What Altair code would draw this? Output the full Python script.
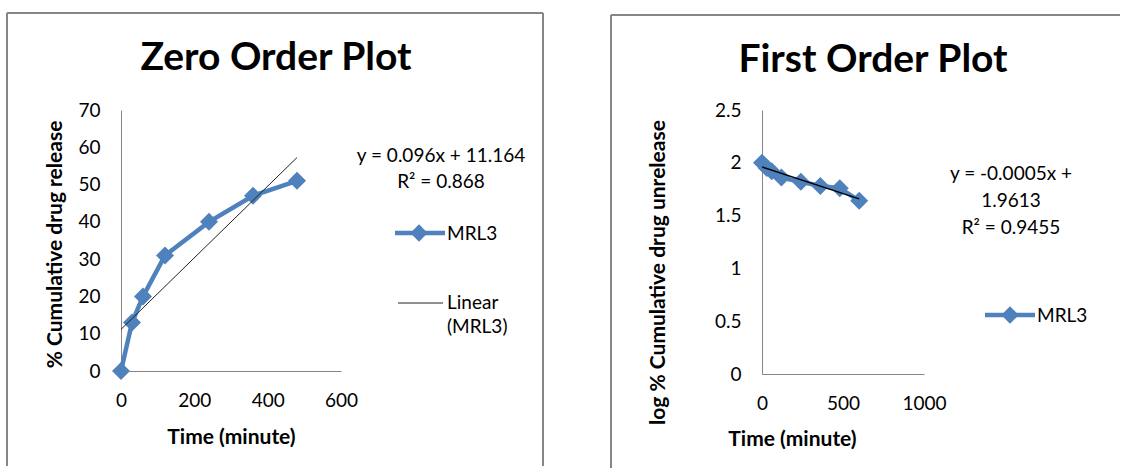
import altair as alt
import pandas as pd

# ---- data ----
time_zero = [0, 30, 60, 120, 240, 360, 480]
release_zero = [0, 13, 20, 31, 40, 47, 51]

time_first = [0, 30, 60, 120, 240, 360, 480, 600]
log_unrelease = [2.0, 1.95, 1.92, 1.86, 1.82, 1.78, 1.76, 1.64]

x_ticks_zero = [0, 200, 400, 600]
y_ticks_zero = [0, 10, 20, 30, 40, 50, 60, 70]
x_ticks_first = [0, 500, 1000]
y_ticks_first = [0, 0.5, 1, 1.5, 2, 2.5]

series_name = "MRL3"
zero_title = "Zero Order Plot"
first_title = "First Order Plot"
zero_eq = ["y = 0.096x + 11.164", "R\u00b2 = 0.868"]
first_eq = ["y = -0.0005x +", "1.9613", "R\u00b2 = 0.9455"]

BLUE = "#4F81BD"
GRAY = "#868686"
FONT = "Lato"
TXT = "#000000"
TS = 19  # plain text size


def one():
    return alt.Data(values=[{"k": 0}])


def vrule(x, y1, y2, color=GRAY, w=2):
    return alt.Chart(one()).mark_rule(color=color, strokeWidth=w).encode(
        x=alt.value(x), y=alt.value(y1), y2=alt.value(y2))


def hrule(x1, x2, y, color=GRAY, w=2):
    return alt.Chart(one()).mark_rule(color=color, strokeWidth=w).encode(
        x=alt.value(x1), x2=alt.value(x2), y=alt.value(y))


def label(txt, x, y, size=TS, bold=False, align="center"):
    return alt.Chart(one()).mark_text(
        font=FONT, fontSize=size, fontWeight="bold" if bold else "normal",
        align=align, baseline="alphabetic", color=TXT
    ).encode(x=alt.value(x), y=alt.value(y), text=alt.value(txt))


def diamond(x, y, size=300):
    return alt.Chart(one()).mark_point(
        shape="diamond", filled=True, size=size, color=BLUE, opacity=1
    ).encode(x=alt.value(x), y=alt.value(y))


# ---------------- Zero order panel ----------------
df0 = pd.DataFrame({"t": time_zero, "y": release_zero})
X0 = alt.X("t:Q", scale=alt.Scale(domain=[0, 600], nice=False),
           axis=alt.Axis(values=x_ticks_zero, format="d", title="Time (minute)",
                         titleX=110, titleY=72, titleBaseline="alphabetic",
                         titleAlign="center"))
Y0 = alt.Y("y:Q", scale=alt.Scale(domain=[0, 70], nice=False),
           axis=alt.Axis(values=y_ticks_zero, format="d",
                         title="% Cumulative drug release",
                         titleX=-60, titleY=134, titleBaseline="alphabetic",
                         titleAlign="center"))
base0 = alt.Chart(df0).encode(x=X0, y=Y0)

left = alt.layer(
    vrule(-114, -97, 356),
    hrule(-114, 422, -97),
    vrule(422, -97, 356),
    label(zero_title, 155, -40, size=39, bold=True),
    label(zero_eq[0], 320, 52),
    label(zero_eq[1], 320, 78),
    hrule(274, 324, 123, color=BLUE, w=4.5),
    diamond(298, 123),
    label(series_name, 326, 130, align="left"),
    hrule(277, 322, 193, color="#222222", w=1),
    label("Linear", 326, 199, align="left"),
    label("(" + series_name + ")", 326, 223, align="left"),
    base0.mark_line(color=BLUE, strokeWidth=4.5),
    base0.mark_point(shape="diamond", filled=True, size=324, color=BLUE, opacity=1),
    base0.transform_regression("t", "y").mark_line(color="#222222", strokeWidth=1),
).properties(width=220, height=261)

# ---------------- First order panel ----------------
df1 = pd.DataFrame({"t": time_first, "y": log_unrelease})
X1 = alt.X("t:Q", scale=alt.Scale(domain=[0, 1000], nice=False),
           axis=alt.Axis(values=x_ticks_first, format="d", title="Time (minute)",
                         titleX=30, titleY=71, titleBaseline="alphabetic",
                         titleAlign="center"))
Y1 = alt.Y("y:Q", scale=alt.Scale(domain=[0, 2.5], nice=False),
           axis=alt.Axis(values=y_ticks_first, format="~g",
                         title="log % Cumulative drug unrelease",
                         titleX=-98, titleY=162, titleBaseline="alphabetic",
                         titleAlign="center"))
base1 = alt.Chart(df1).encode(x=X1, y=Y1)

right = alt.layer(
    vrule(-151, -95, 358),
    hrule(-151, 358, -95),
    label(first_title, 111, -38, size=39, bold=True),
    label(first_eq[0], 249, 70),
    label(first_eq[1], 249, 97),
    label(first_eq[2], 249, 124),
    hrule(223, 273, 205, color=BLUE, w=4.5),
    diamond(248, 205),
    label(series_name, 275, 212, align="left"),
    base1.mark_line(color=BLUE, strokeWidth=4.5),
    base1.mark_point(shape="diamond", filled=True, size=324, color=BLUE, opacity=1),
    base1.transform_regression("t", "y").mark_line(color="#000000", strokeWidth=1.3),
).properties(width=162, height=264)

chart = alt.hconcat(left, right, spacing=66).properties(
    padding={"left": 6, "top": 12, "right": 0, "bottom": 0},
    background="white",
).configure_view(strokeWidth=0).configure_axis(
    domainColor=GRAY, domainWidth=1, ticks=False, grid=False, labelFlush=False,
    labelFont=FONT, labelFontSize=19, labelColor=TXT,
    titleFont=FONT, titleFontSize=21, titleFontWeight="bold", titleColor=TXT,
).configure_axisX(labelPadding=20).configure_axisY(labelPadding=21)

chart.save("out.html", embed_options={"renderer": "svg", "actions": False})
